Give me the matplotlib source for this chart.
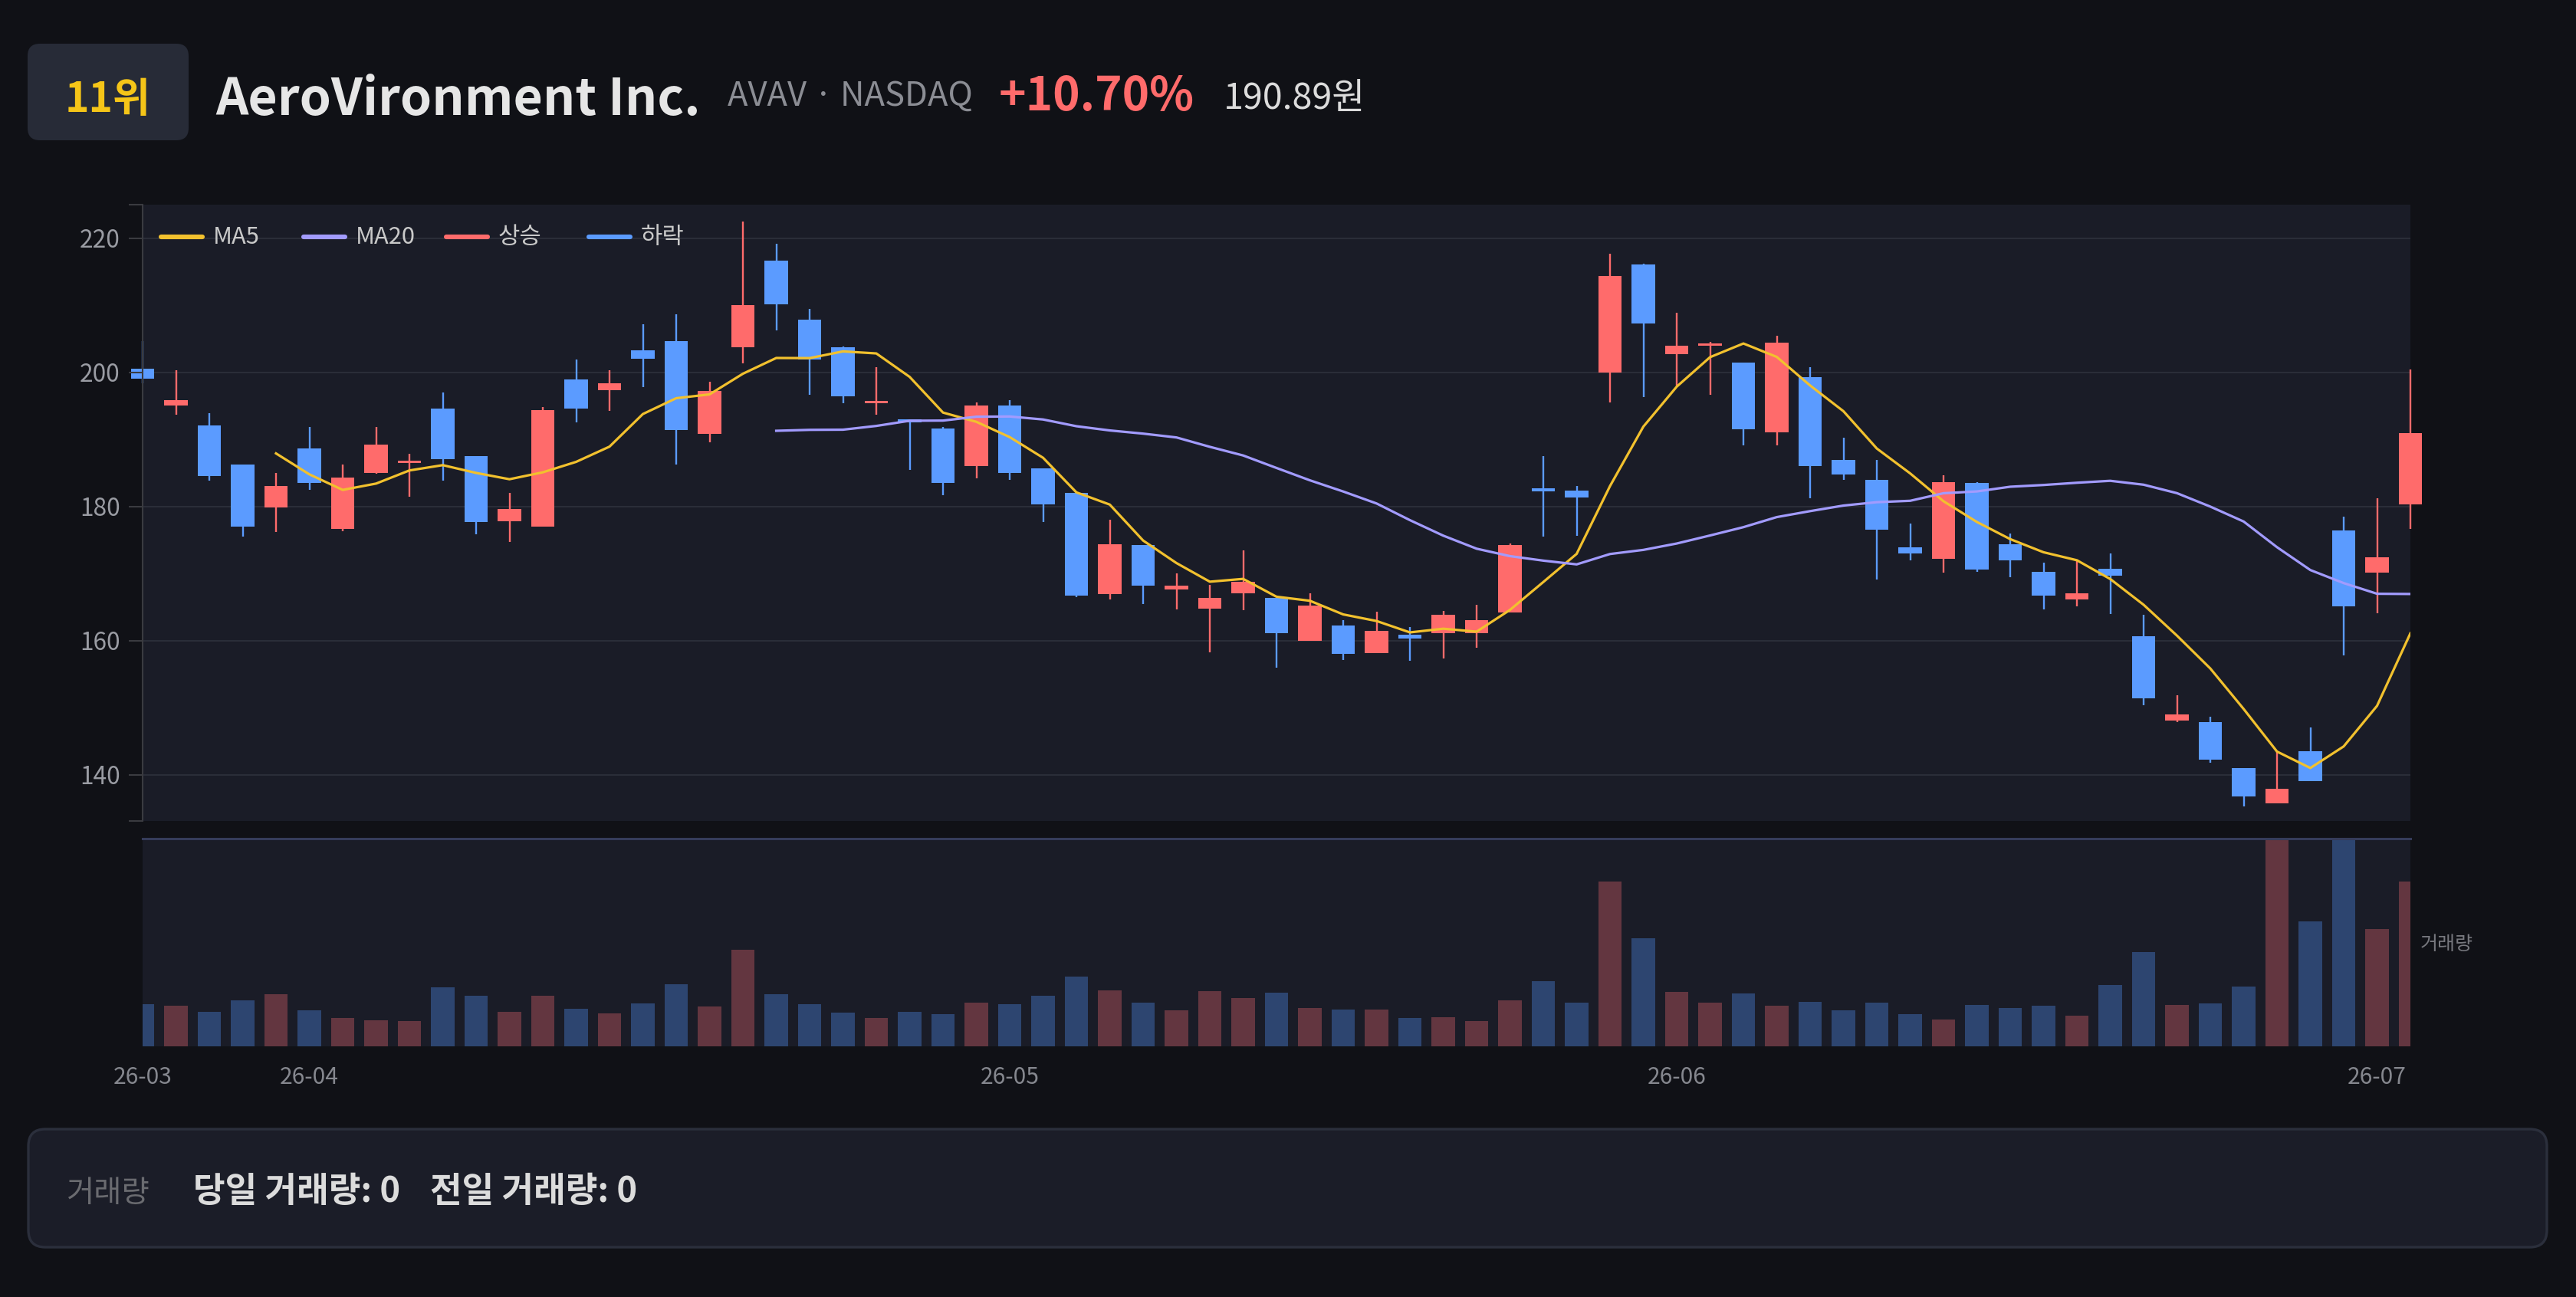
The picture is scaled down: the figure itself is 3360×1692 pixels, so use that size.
import matplotlib
matplotlib.use('Agg')
import matplotlib.pyplot as plt
import numpy as np
import pandas as pd
from matplotlib.patches import FancyBboxPatch
from matplotlib.lines import Line2D

plt.rcParams['font.family'] = ['Noto Sans CJK KR', 'DejaVu Sans']

# ---------------- data ----------------
opens = [200.5, 195.07, 192.1, 186.3, 179.9, 188.6, 176.65, 185.0, 186.5, 194.6,
         187.5, 177.8, 177.0, 198.95, 197.3, 203.3, 204.6, 190.8, 203.7, 216.7,
         207.9, 203.7, 195.4, 193.0, 191.6, 186.0, 195.0, 185.7, 182.0, 166.9,
         174.3, 167.6, 164.75, 167.0, 166.4, 160.0, 162.2, 158.1, 160.9, 161.05,
         161.05, 164.2, 182.75, 182.4, 200.0, 216.05, 202.7, 204.0, 201.5, 191.0,
         199.25, 186.9, 183.95, 173.85, 172.2, 183.5, 174.4, 170.25, 166.1, 170.7,
         160.7, 148.1, 147.8, 141.0, 135.75, 143.5, 176.4, 170.1, 180.3]
closes = [199.1, 195.9, 184.5, 177.0, 183.05, 183.5, 184.3, 189.2, 186.8, 187.0,
          177.7, 179.6, 194.35, 194.6, 198.35, 202.0, 191.4, 197.2, 210.0, 210.1,
          201.9, 196.4, 195.7, 192.5, 183.5, 195.0, 185.0, 180.3, 166.7, 174.4,
          168.2, 168.2, 166.4, 168.8, 161.1, 165.2, 158.0, 161.5, 160.3, 163.85,
          163.0, 174.2, 182.3, 181.3, 214.4, 207.3, 204.0, 204.3, 191.5, 204.4,
          186.0, 184.8, 176.5, 172.95, 183.65, 170.55, 172.0, 166.7, 167.0, 169.65,
          151.35, 149.0, 142.2, 136.8, 137.9, 139.1, 165.1, 172.44, 190.89]
highs = [204.6, 200.3, 193.9, 186.3, 185.0, 191.8, 186.2, 191.8, 187.8, 197.0,
         187.5, 182.0, 194.8, 201.9, 200.3, 207.2, 208.6, 198.6, 222.45, 219.2,
         209.4, 203.85, 200.8, 193.0, 191.8, 195.5, 195.8, 185.7, 182.0, 178.0,
         174.3, 170.0, 168.3, 173.4, 166.4, 167.0, 163.1, 164.3, 162.0, 164.4,
         165.3, 174.5, 187.5, 183.0, 217.7, 216.2, 208.9, 204.5, 201.5, 205.5,
         200.8, 190.2, 186.9, 177.5, 184.6, 183.65, 176.0, 171.6, 172.0, 173.0,
         163.8, 151.8, 148.6, 141.0, 143.5, 147.0, 178.45, 181.25, 200.4]
lows = [198.4, 193.7, 183.8, 175.5, 176.2, 182.5, 176.3, 184.9, 181.4, 183.8,
        175.9, 174.7, 177.0, 192.55, 194.2, 197.8, 186.2, 189.6, 201.3, 206.3,
        196.7, 195.4, 193.7, 185.5, 181.7, 184.25, 184.0, 177.7, 166.5, 166.1,
        165.5, 164.6, 158.3, 164.5, 156.0, 160.0, 157.1, 158.1, 157.0, 157.3,
        158.9, 164.2, 175.5, 175.6, 195.5, 196.3, 198.05, 196.6, 189.15, 189.15,
        181.2, 184.0, 169.1, 172.0, 170.1, 170.2, 169.4, 164.6, 165.05, 163.95,
        150.35, 147.8, 141.8, 135.3, 135.75, 139.1, 157.8, 164.1, 176.65]
volumes = [135, 130, 112, 149, 169, 117, 92, 84, 82, 191,
           162, 111, 164, 122, 107, 138, 201, 129, 312, 167,
           136, 109, 91, 112, 105, 142, 137, 164, 225, 181,
           141, 117, 178, 155, 174, 124, 119, 119, 92, 93,
           82, 149, 209, 142, 531, 348, 175, 142, 170, 131,
           143, 115, 142, 104, 87, 134, 124, 132, 100, 199,
           303, 134, 138, 194, 760, 403, 820, 379, 531]
date_idx = [0, 5, 26, 46, 67]
date_labels = ['26-03', '26-04', '26-05', '26-06', '26-07']
yticks = [140, 160, 180, 200, 220]
legend_labels = ['MA5', 'MA20', '상승', '하락']

rank_text = '11위'
name_text = 'AeroVironment Inc.'
ticker_text = 'AVAV · NASDAQ'
change_text = '+10.70%'
price_text = '190.89원'
footer_label = '거래량'
footer_today = '당일 거래량: 0'
footer_prev = '전일 거래량: 0'

# ---------------- styles ----------------
BG = '#101116'
PANEL = '#1a1c27'
GRID = '#2a2d38'
UP = '#ff6b6b'
DOWN = '#5b9bff'
VUP = '#633640'
VDOWN = '#2d4570'
MA5C = '#f2c12e'
MA20C = '#a29bfe'

W, H, DPI = 3360, 1692, 200
fig = plt.figure(figsize=(W / DPI, H / DPI), dpi=DPI, facecolor=BG)

axbg = fig.add_axes([0, 0, 1, 1], zorder=0)
axbg.set_xlim(0, W); axbg.set_ylim(H, 0); axbg.axis('off')

L, R = 186, 3144
ax = fig.add_axes([L / W, 1 - 1071 / H, (R - L) / W, (1071 - 267) / H], zorder=2)
axv = fig.add_axes([L / W, 1 - 1365 / H, (R - L) / W, (1365 - 1094) / H], zorder=2)
axtop = fig.add_axes([0, 0, 1, 1], zorder=5)
axtop.set_xlim(0, W); axtop.set_ylim(H, 0); axtop.axis('off')

o = np.array(opens); c = np.array(closes); hi = np.array(highs); lo = np.array(lows)
x = np.arange(len(o))
up = c >= o
cols = np.where(up, UP, DOWN)
vcols = np.where(up, VUP, VDOWN)

# price panel
ax.set_facecolor(PANEL)
for s in ['top', 'right', 'bottom']:
    ax.spines[s].set_visible(False)
ax.spines['left'].set_color('#3a3b40')
ax.spines['left'].set_linewidth(0.75)
ax.spines['left'].set_zorder(3)
ax.set_axisbelow(False)
ax.set_xlim(0, len(o) - 1)
ymin, ymax = 133.1, 225.0
ax.set_ylim(ymin, ymax)
ax.set_yticks(yticks)
ax.set_yticks([ymin, ymax], minor=True)
ax.tick_params(axis='y', which='both', length=6.5, width=0.75, color='#3a3b40',
               labelcolor='#9a9ca3', labelsize=11.4, pad=4)
ax.tick_params(axis='x', bottom=False, labelbottom=False)
for yv in yticks:
    ax.axhline(yv, color=GRID, lw=0.75, zorder=0.5)

ax.vlines(x, lo, hi, colors=cols, lw=0.85, zorder=2.0, clip_on=False)
ax.bar(x, np.maximum(np.abs(c - o), 0.25), bottom=np.minimum(o, c), width=0.7,
       color=cols, lw=0, zorder=2.1, clip_on=False)

ma5 = pd.Series(c).rolling(5).mean()
ma20 = pd.Series(c).rolling(20).mean()
ax.plot(x, ma5, color=MA5C, lw=1.15, zorder=2.3)
ax.plot(x, ma20, color=MA20C, lw=1.15, zorder=2.3)

# volume panel
axv.set_facecolor(PANEL)
for s in ['left', 'right', 'bottom']:
    axv.spines[s].set_visible(False)
axv.spines['top'].set_color('#353c5a')
axv.spines['top'].set_linewidth(1.1)
axv.set_xlim(0, len(o) - 1)
axv.set_ylim(0, 670)
axv.bar(x, volumes, width=0.7, color=vcols, lw=0)
axv.set_yticks([])
axv.set_xticks(date_idx)
axv.set_xticklabels(date_labels)
axv.tick_params(axis='x', length=0, pad=9, labelcolor='#85878e', labelsize=10.8)

# legend (manual, fixed spacing)
leg_cols = [MA5C, MA20C, UP, DOWN]
for k, (lab, col) in enumerate(zip(legend_labels, leg_cols)):
    x0 = 210 + 186 * k
    axtop.add_line(Line2D([x0, x0 + 54], [309, 309], color=col, lw=2.2,
                          solid_capstyle='round'))
    axtop.text(x0 + 68, 309, lab, va='center', ha='left', fontsize=11.1, color='#c9c9c9')

axtop.text(3157, 1232, '거래량', va='center', ha='left', fontsize=9, color='#77787e')

# header
axbg.add_patch(FancyBboxPatch((36, 57), 210, 126, boxstyle='round,pad=0,rounding_size=16',
                              fc='#272b37', ec='none'))
axbg.text(141, 146, rank_text, ha='center', va='baseline', fontsize=19.2,
          fontweight='bold', color='#f5c518')
axbg.text(281, 150, name_text, ha='left', va='baseline', fontsize=23.8,
          fontweight='bold', color='#e6e6e6')
axbg.text(949, 138, ticker_text, ha='left', va='baseline', fontsize=15.7, color='#8b8d94')
axbg.text(1303, 144, change_text, ha='left', va='baseline', fontsize=21.7,
          fontweight='bold', color=UP)
axbg.text(1596, 142, price_text, ha='left', va='baseline', fontsize=16.8, color='#dcdcdc')

# footer
axbg.add_patch(FancyBboxPatch((37, 1473), 3285, 154, boxstyle='round,pad=0,rounding_size=22',
                              fc='#1b1d28', ec='#2b2f3c', lw=1.2))
axbg.text(86, 1568, footer_label, ha='left', va='baseline', fontsize=14.2, color='#6a6b70')
axbg.text(252, 1568, footer_today, ha='left', va='baseline', fontsize=16.3,
          fontweight='bold', color='#dcdcdc')
axbg.text(561, 1568, footer_prev, ha='left', va='baseline', fontsize=16.3,
          fontweight='bold', color='#dcdcdc')

fig.savefig('out.png', dpi=DPI, facecolor=BG)
